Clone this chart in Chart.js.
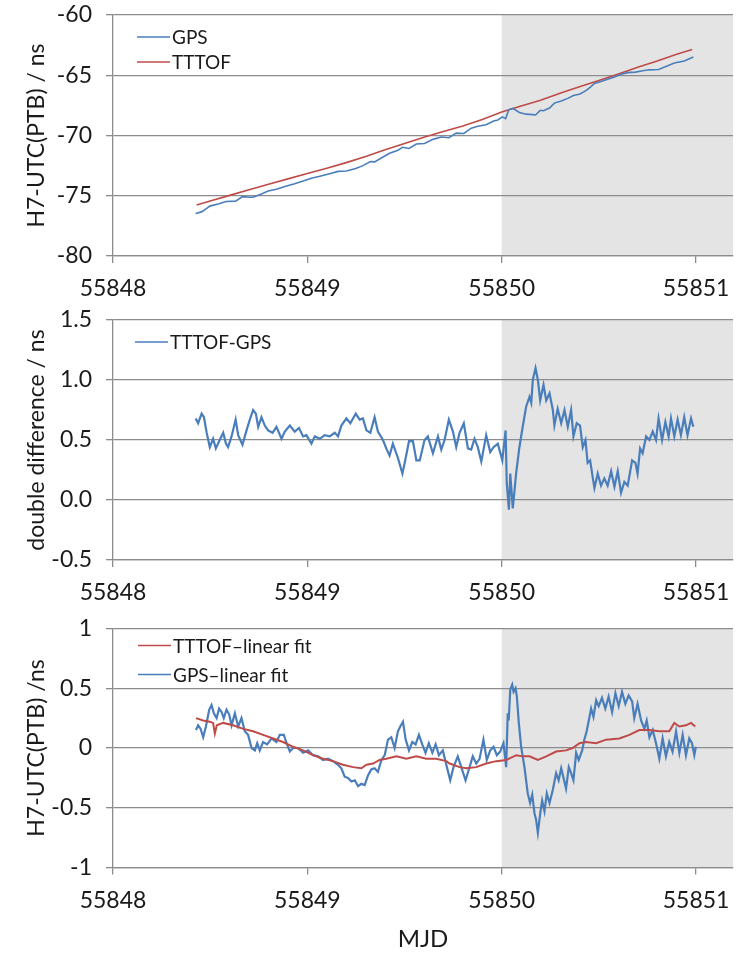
<html>
<head>
<title>H7 vs UTC(PTB)</title>
<script src="https://cdn.jsdelivr.net/npm/chart.js@4.4.0/dist/chart.umd.min.js"></script>
<style>
body { margin: 0; background: #fff; }
canvas { position: absolute; left: 0; }
</style>
</head>
<body>
<canvas id="pTop" width="736" height="305" style="top:0px"></canvas>
<canvas id="pMid" width="736" height="300" style="top:305px"></canvas>
<canvas id="pBot" width="736" height="349" style="top:605px"></canvas>
<script>
// ---- data (MJD, ns) ----
const xTicks = [55848, 55849, 55850, 55851];
const yTicksTop = [-80, -75, -70, -65, -60];
const yTicksMid = [-0.5, 0, 0.5, 1.0, 1.5];
const yTicksBot = [-1, -0.5, 0, 0.5, 1];
const shadeFrom = 55850;

const gpsTop = [[55848.425,-76.47],[55848.456,-76.34],[55848.482,-76.05],[55848.498,-75.86],[55848.546,-75.67],[55848.581,-75.48],[55848.631,-75.45],[55848.666,-75.07],[55848.704,-75.12],[55848.721,-75.12],[55848.764,-74.86],[55848.798,-74.61],[55848.841,-74.46],[55848.884,-74.23],[55848.935,-74.00],[55848.978,-73.78],[55849.021,-73.54],[55849.064,-73.38],[55849.115,-73.17],[55849.158,-72.98],[55849.201,-72.94],[55849.249,-72.74],[55849.286,-72.50],[55849.324,-72.17],[55849.346,-72.19],[55849.389,-71.78],[55849.423,-71.47],[55849.466,-71.23],[55849.489,-70.98],[55849.523,-71.08],[55849.561,-70.71],[55849.603,-70.67],[55849.646,-70.32],[55849.689,-70.13],[55849.728,-70.19],[55849.766,-69.80],[55849.805,-69.83],[55849.843,-69.39],[55849.877,-69.23],[55849.920,-69.11],[55849.958,-68.79],[55849.980,-68.71],[55850.003,-68.45],[55850.020,-68.60],[55850.037,-67.85],[55850.057,-67.75],[55850.091,-68.09],[55850.126,-68.23],[55850.160,-68.27],[55850.174,-68.30],[55850.198,-67.91],[55850.215,-67.95],[55850.246,-67.72],[55850.271,-67.31],[55850.306,-67.14],[55850.340,-66.92],[55850.369,-66.68],[55850.403,-66.56],[55850.431,-66.30],[55850.455,-66.01],[55850.477,-65.68],[55850.511,-65.52],[55850.545,-65.34],[55850.580,-65.14],[55850.614,-64.91],[55850.648,-64.78],[55850.688,-64.74],[55850.725,-64.62],[55850.760,-64.55],[55850.807,-64.52],[55850.842,-64.29],[55850.888,-63.99],[55850.939,-63.81],[55850.986,-63.48]];

const tttofTop = [[55848.43,-75.77],[55848.50,-75.44],[55848.60,-74.97],[55848.70,-74.50],[55848.80,-74.04],[55848.90,-73.60],[55849.00,-73.16],[55849.10,-72.71],[55849.20,-72.25],[55849.30,-71.74],[55849.40,-71.18],[55849.50,-70.66],[55849.60,-70.15],[55849.70,-69.66],[55849.80,-69.22],[55849.90,-68.68],[55850.00,-68.05],[55850.10,-67.55],[55850.20,-67.08],[55850.30,-66.50],[55850.40,-65.96],[55850.50,-65.44],[55850.60,-64.90],[55850.70,-64.33],[55850.80,-63.82],[55850.90,-63.26],[55850.98,-62.87]];

const doubleDiff = [[55848.425,0.68],[55848.438,0.64],[55848.456,0.72],[55848.468,0.69],[55848.482,0.56],[55848.498,0.44],[55848.515,0.51],[55848.529,0.43],[55848.546,0.49],[55848.567,0.56],[55848.581,0.47],[55848.592,0.44],[55848.610,0.53],[55848.631,0.67],[55848.644,0.54],[55848.666,0.46],[55848.687,0.58],[55848.704,0.67],[55848.721,0.75],[55848.735,0.72],[55848.747,0.61],[55848.764,0.69],[55848.781,0.62],[55848.798,0.58],[55848.821,0.56],[55848.841,0.61],[55848.867,0.51],[55848.884,0.57],[55848.910,0.62],[55848.935,0.57],[55848.957,0.60],[55848.978,0.53],[55848.995,0.54],[55849.021,0.47],[55849.038,0.53],[55849.064,0.51],[55849.089,0.54],[55849.115,0.53],[55849.141,0.56],[55849.158,0.53],[55849.175,0.62],[55849.201,0.68],[55849.221,0.64],[55849.249,0.72],[55849.269,0.67],[55849.286,0.68],[55849.304,0.58],[55849.324,0.56],[55849.346,0.69],[55849.363,0.57],[55849.389,0.50],[55849.406,0.43],[55849.423,0.37],[55849.440,0.47],[55849.466,0.35],[55849.489,0.22],[55849.501,0.31],[55849.523,0.49],[55849.543,0.49],[55849.561,0.33],[55849.578,0.33],[55849.603,0.50],[55849.620,0.53],[55849.646,0.39],[55849.672,0.53],[55849.689,0.42],[55849.706,0.50],[55849.728,0.67],[55849.749,0.57],[55849.766,0.44],[55849.783,0.56],[55849.805,0.64],[55849.826,0.43],[55849.843,0.42],[55849.860,0.51],[55849.877,0.44],[55849.895,0.32],[55849.920,0.54],[55849.941,0.40],[55849.958,0.44],[55849.980,0.47],[55850.003,0.33],[55850.020,0.58],[55850.026,0.14],[55850.037,-0.08],[55850.044,0.22],[55850.057,-0.07],[55850.074,0.22],[55850.091,0.44],[55850.108,0.61],[55850.126,0.78],[55850.143,0.86],[55850.152,0.81],[55850.160,1.00],[55850.174,1.10],[55850.186,1.00],[55850.198,0.83],[55850.215,0.96],[55850.229,0.83],[55850.246,0.89],[55850.263,0.75],[55850.271,0.62],[55850.288,0.76],[55850.306,0.64],[55850.323,0.75],[55850.340,0.61],[55850.357,0.75],[55850.369,0.53],[55850.386,0.64],[55850.403,0.62],[55850.417,0.44],[55850.431,0.50],[55850.442,0.31],[55850.455,0.33],[55850.468,0.19],[55850.477,0.10],[55850.494,0.22],[55850.511,0.12],[55850.528,0.18],[55850.545,0.12],[55850.563,0.24],[55850.580,0.11],[55850.597,0.24],[55850.614,0.06],[55850.631,0.15],[55850.648,0.12],[55850.671,0.33],[55850.688,0.31],[55850.699,0.22],[55850.712,0.43],[55850.725,0.39],[55850.743,0.53],[55850.760,0.50],[55850.777,0.57],[55850.794,0.50],[55850.807,0.68],[55850.825,0.50],[55850.842,0.65],[55850.859,0.53],[55850.871,0.68],[55850.888,0.53],[55850.905,0.67],[55850.922,0.54],[55850.939,0.69],[55850.956,0.54],[55850.974,0.68],[55850.986,0.61]];

const tttofResid = [[55848.427,0.25],[55848.464,0.23],[55848.498,0.22],[55848.515,0.21],[55848.524,0.12],[55848.534,0.19],[55848.567,0.21],[55848.618,0.19],[55848.670,0.16],[55848.721,0.14],[55848.772,0.11],[55848.824,0.08],[55848.875,0.05],[55848.927,0.01],[55848.978,-0.02],[55849.029,-0.06],[55849.081,-0.09],[55849.132,-0.11],[55849.183,-0.14],[55849.235,-0.16],[55849.278,-0.17],[55849.304,-0.14],[55849.338,-0.13],[55849.372,-0.10],[55849.406,-0.09],[55849.458,-0.07],[55849.509,-0.09],[55849.561,-0.07],[55849.612,-0.09],[55849.663,-0.09],[55849.715,-0.11],[55849.732,-0.13],[55849.783,-0.16],[55849.818,-0.17],[55849.869,-0.16],[55849.920,-0.13],[55849.972,-0.11],[55850.023,-0.10],[55850.075,-0.06],[55850.108,-0.07],[55850.143,-0.07],[55850.186,-0.10],[55850.229,-0.07],[55850.280,-0.03],[55850.331,-0.02],[55850.365,0.00],[55850.400,0.04],[55850.434,0.05],[55850.486,0.04],[55850.537,0.07],[55850.605,0.08],[55850.657,0.11],[55850.708,0.15],[55850.760,0.15],[55850.811,0.14],[55850.862,0.14],[55850.888,0.21],[55850.914,0.18],[55850.948,0.19],[55850.974,0.21],[55850.996,0.18]];

const gpsResid = [[55848.427,0.15],[55848.438,0.19],[55848.451,0.16],[55848.464,0.09],[55848.478,0.18],[55848.495,0.32],[55848.507,0.36],[55848.519,0.29],[55848.533,0.25],[55848.546,0.33],[55848.559,0.30],[55848.570,0.25],[55848.584,0.32],[55848.598,0.28],[55848.610,0.19],[55848.627,0.29],[55848.644,0.18],[55848.661,0.25],[55848.678,0.14],[55848.695,0.11],[55848.713,0.00],[55848.730,-0.02],[55848.742,0.04],[55848.755,-0.02],[55848.772,0.05],[55848.793,0.03],[55848.816,0.08],[55848.841,0.05],[55848.858,0.11],[55848.879,0.11],[55848.893,0.04],[55848.910,-0.03],[55848.927,0.00],[55848.952,0.00],[55848.978,-0.04],[55849.004,-0.02],[55849.029,-0.06],[55849.055,-0.07],[55849.081,-0.10],[55849.106,-0.09],[55849.132,-0.11],[55849.158,-0.14],[55849.175,-0.17],[55849.192,-0.24],[55849.209,-0.25],[55849.227,-0.28],[55849.244,-0.27],[55849.261,-0.32],[55849.278,-0.30],[55849.295,-0.31],[55849.312,-0.23],[55849.329,-0.18],[55849.346,-0.17],[55849.363,-0.20],[55849.381,-0.10],[55849.398,-0.06],[55849.415,0.07],[55849.432,0.09],[55849.449,0.00],[55849.466,0.14],[55849.478,0.18],[55849.492,0.22],[55849.506,0.07],[55849.523,-0.02],[55849.540,0.05],[55849.557,0.03],[55849.574,0.11],[55849.591,0.03],[55849.608,-0.04],[55849.625,0.04],[55849.643,-0.04],[55849.660,0.03],[55849.677,-0.06],[55849.697,-0.02],[55849.718,-0.16],[55849.735,-0.27],[55849.752,-0.16],[55849.774,-0.07],[55849.792,-0.16],[55849.814,-0.27],[55849.831,-0.18],[55849.851,-0.07],[55849.869,-0.13],[55849.886,-0.09],[55849.906,0.07],[55849.923,-0.10],[55849.941,-0.02],[55849.958,0.01],[55849.975,-0.06],[55849.992,-0.03],[55850.009,0.04],[55850.023,-0.16],[55850.031,0.29],[55850.036,0.23],[55850.044,0.49],[55850.054,0.53],[55850.061,0.47],[55850.071,0.50],[55850.078,0.43],[55850.088,0.21],[55850.100,0.01],[55850.117,-0.16],[55850.134,-0.38],[55850.146,-0.46],[55850.157,-0.39],[55850.169,-0.55],[55850.177,-0.60],[55850.186,-0.71],[55850.198,-0.55],[55850.208,-0.44],[55850.220,-0.53],[55850.232,-0.38],[55850.246,-0.46],[55850.263,-0.35],[55850.280,-0.21],[55850.293,-0.27],[55850.306,-0.17],[55850.318,-0.25],[55850.331,-0.34],[55850.345,-0.16],[55850.357,-0.21],[55850.369,-0.27],[55850.383,-0.04],[55850.396,-0.10],[55850.414,-0.02],[55850.425,0.07],[55850.437,0.14],[55850.448,0.23],[55850.460,0.33],[55850.472,0.26],[55850.486,0.40],[55850.499,0.35],[55850.516,0.42],[55850.533,0.33],[55850.550,0.43],[55850.568,0.30],[55850.585,0.46],[55850.602,0.35],[55850.619,0.47],[55850.636,0.37],[55850.653,0.44],[55850.671,0.39],[55850.682,0.25],[55850.699,0.37],[55850.717,0.23],[55850.734,0.16],[55850.746,0.23],[55850.760,0.09],[55850.777,0.15],[55850.794,0.04],[55850.811,-0.09],[55850.828,0.08],[55850.845,-0.07],[55850.862,0.05],[55850.879,-0.03],[55850.897,0.14],[55850.914,-0.04],[55850.931,0.11],[55850.948,-0.06],[55850.965,0.08],[55850.979,0.04],[55850.991,-0.06],[55850.999,0.01]];

// ---- styling ----
const BLUE = '#4a7ebb';
const RED = '#be4b48';
const GRID = '#8c8c8c';
const TEXT = '#1a1a1a';
Chart.defaults.font.family = 'Lato';
Chart.defaults.color = TEXT;

// grey band from MJD 55850 to the right edge of the plot
const shade = {
  id: 'shade',
  beforeDraw(chart, args, opts) {
    const {ctx, chartArea: a, scales: {x}} = chart;
    const x0 = x.getPixelForValue(opts.from);
    ctx.save();
    ctx.fillStyle = opts.color;
    ctx.fillRect(x0, a.top, a.right - x0, a.bottom - a.top);
    ctx.restore();
  }
};

// Excel-like legend inside the plot area, top-left
const innerLegend = {
  id: 'innerLegend',
  afterDatasetsDraw(chart, args, opts) {
    const {ctx, chartArea: a} = chart;
    ctx.save();
    ctx.font = opts.size + 'px Lato';
    ctx.textBaseline = 'middle';
    chart.data.datasets.forEach((ds, i) => {
      const y = a.top + opts.top + i * opts.gap;
      const x0 = a.left + opts.left;
      ctx.strokeStyle = ds.borderColor;
      ctx.lineWidth = 1.6;
      ctx.beginPath();
      ctx.moveTo(x0, y);
      ctx.lineTo(x0 + 33, y);
      ctx.stroke();
      ctx.fillStyle = TEXT;
      ctx.fillText(ds.label, x0 + 35, y + 1);
    });
    ctx.restore();
  }
};

function series(label, pts, color, width) {
  return {
    label: label,
    data: pts.map(p => ({x: p[0], y: p[1]})),
    borderColor: color,
    backgroundColor: color,
    borderWidth: width,
    pointRadius: 0,
    tension: 0,
    fill: false
  };
}

function panel(id, datasets, yTicks, yTitle, fmt, padTop, xHeight, legend, xTitle) {
  new Chart(document.getElementById(id), {
    type: 'line',
    data: {datasets: datasets},
    plugins: [shade, innerLegend],
    options: {
      responsive: false,
      animation: false,
      devicePixelRatio: 1,
      layout: {padding: {top: padTop, right: 3, left: 0, bottom: 0}},
      plugins: {
        legend: {display: false},
        tooltip: {enabled: false},
        shade: {from: shadeFrom, color: '#e4e4e4'},
        innerLegend: legend
      },
      scales: {
        x: {
          type: 'linear',
          min: 55848,
          max: 55851.19,
          afterBuildTicks: s => { s.ticks = xTicks.map(v => ({value: v})); },
          afterFit: s => { s.height = xHeight; s.paddingLeft = 0; s.paddingRight = 0; },
          ticks: {
            callback: v => String(v),
            autoSkip: false,
            maxRotation: 0,
            padding: 12,
            font: {size: 23}
          },
          grid: {drawOnChartArea: false, drawTicks: true, tickLength: 7, color: GRID, lineWidth: 1.3},
          border: {display: true, color: GRID, width: 1.3},
          title: xTitle ? {display: true, text: xTitle, font: {size: 24}, padding: {top: 0, bottom: 0}} : {display: false}
        },
        y: {
          min: yTicks[0],
          max: yTicks[yTicks.length - 1],
          afterBuildTicks: s => { s.ticks = yTicks.map(v => ({value: v})); },
          afterFit: s => { s.width = 113; s.paddingTop = 0; s.paddingBottom = 0; },
          ticks: {
            callback: fmt,
            padding: 14,
            font: {size: 23}
          },
          grid: {drawTicks: true, tickLength: 7, color: GRID, lineWidth: 1.3},
          border: {display: true, color: GRID, width: 1.3},
          title: {display: true, text: yTitle, font: {size: 23}, padding: {top: 23, bottom: 0}}
        }
      }
    }
  });
}

panel('pTop',
  [series('GPS', gpsTop, BLUE, 1.6), series('TTTOF', tttofTop, RED, 1.6)],
  yTicksTop, 'H7-UTC(PTB) / ns', v => String(v), 15, 49,
  {left: 24, top: 22, gap: 25, size: 19});

panel('pMid',
  [series('TTTOF-GPS', doubleDiff, BLUE, 2.2)],
  yTicksMid, 'double difference / ns', v => v.toFixed(1), 15, 45,
  {left: 22, top: 22, gap: 25, size: 19});

panel('pBot',
  [series('TTTOF\u2013linear fit', tttofResid, RED, 2), series('GPS\u2013linear fit', gpsResid, BLUE, 2.2)],
  yTicksBot, 'H7-UTC(PTB) /ns', v => String(v), 23.5, 86.5,
  {left: 25, top: 17, gap: 29, size: 19}, 'MJD');
</script>
</body>
</html>
